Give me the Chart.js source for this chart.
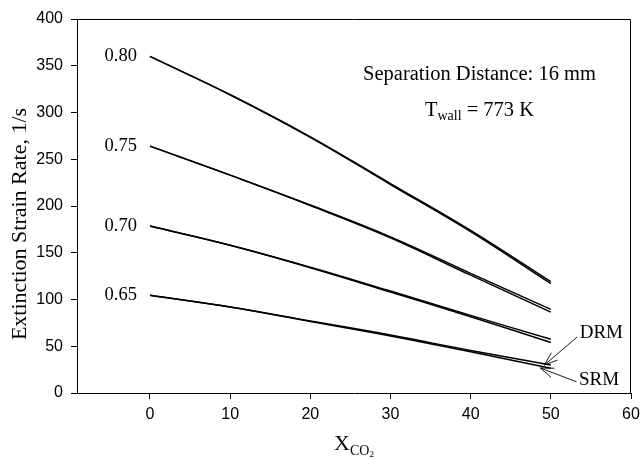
<!DOCTYPE html>
<html>
<head>
<meta charset="utf-8">
<script src="https://cdn.jsdelivr.net/npm/chart.js@4"></script>
<style>
  html, body { margin: 0; padding: 0; background: #fff; }
</style>
</head>
<body>
<canvas id="strainChart" width="640" height="459"></canvas>
<script>
// mole fraction of CO2 (%)
const xco2 = [0, 10, 20, 30, 40, 50];

// extinction strain rate, 1/s  (DRM = detailed, SRM = reduced mechanism)
const drm080 = [360, 319, 274, 224, 174, 119];
const srm080 = [360, 319, 273.5, 223, 172.5, 117];
const drm075 = [264, 233, 201, 167, 128, 89.5];
const srm075 = [264, 233, 200.5, 166, 126, 86.5];
const drm070 = [178.5, 158, 134.5, 109, 83, 57.5];
const srm070 = [178.5, 158, 134, 108, 81.5, 54];
const drm065 = [104.5, 92, 77, 62, 45.5, 30];
const srm065 = [104.5, 92, 76.5, 61, 44, 26.5];

const levelLabels = ['0.80', '0.75', '0.70', '0.65'];
const xTicks = [0, 10, 20, 30, 40, 50, 60];

const SERIF = '"Liberation Serif", "DejaVu Serif", serif';
const SANS = '"Liberation Sans", Arial, sans-serif';

function series(label, values) {
    return {
        label: label,
        data: values.map((v, i) => ({ x: xco2[i], y: v })),
        borderColor: '#000',
        borderWidth: 1.5,
        pointRadius: 0,
        fill: false,
        tension: 0.4
    };
}

const datasets = [
    series('DRM 0.80', drm080), series('SRM 0.80', srm080),
    series('DRM 0.75', drm075), series('SRM 0.75', srm075),
    series('DRM 0.70', drm070), series('SRM 0.70', srm070),
    series('DRM 0.65', drm065), series('SRM 0.65', srm065)
];

function arrow(ctx, x1, y1, x2, y2) {
    const a = Math.atan2(y2 - y1, x2 - x1);
    const len = 14, spread = 0.35;
    ctx.beginPath();
    ctx.moveTo(x1, y1);
    ctx.lineTo(x2, y2);
    ctx.moveTo(x2, y2);
    ctx.lineTo(x2 - len * Math.cos(a - spread), y2 - len * Math.sin(a - spread));
    ctx.moveTo(x2, y2);
    ctx.lineTo(x2 - len * Math.cos(a + spread), y2 - len * Math.sin(a + spread));
    ctx.stroke();
}

// frame, axis titles, level labels and the text notes
const notes = {
    id: 'notes',
    afterDraw(chart) {
        const ctx = chart.ctx;
        const xs = chart.scales.x, ys = chart.scales.y;
        const area = chart.chartArea;
        ctx.save();

        ctx.strokeStyle = '#000';
        ctx.lineWidth = 1;
        ctx.beginPath();
        ctx.moveTo(area.left, area.top + 0.5);
        ctx.lineTo(area.right - 0.5, area.top + 0.5);
        ctx.lineTo(area.right - 0.5, area.bottom);
        ctx.stroke();

        ctx.fillStyle = '#000';

        // y axis title
        ctx.save();
        ctx.translate(20, 224);
        ctx.rotate(-Math.PI / 2);
        ctx.font = '22px ' + SERIF;
        ctx.textAlign = 'center';
        ctx.textBaseline = 'middle';
        ctx.fillText('Extinction Strain Rate, 1/s', 0, 0);
        ctx.restore();

        ctx.font = '18.5px ' + SERIF;
        ctx.textAlign = 'right';
        ctx.textBaseline = 'middle';
        [drm080, drm075, drm070, drm065].forEach((s, i) => {
            ctx.fillText(levelLabels[i], xs.getPixelForValue(xco2[0]) - 13, ys.getPixelForValue(s[0]));
        });

        ctx.textAlign = 'center';
        ctx.font = '20.5px ' + SERIF;
        ctx.fillText('Separation Distance: 16 mm', xs.getPixelForValue(41.1), ys.getPixelForValue(340));

        // T_wall = 773 K
        const cx = xs.getPixelForValue(41.1), cy = ys.getPixelForValue(302.5);
        ctx.font = '20.5px ' + SERIF;
        const wT = ctx.measureText('T').width;
        const wRest = ctx.measureText(' = 773 K').width;
        ctx.font = '14px ' + SERIF;
        const wSub = ctx.measureText('wall').width;
        let x0 = cx - (wT + wSub + wRest) / 2;
        ctx.textAlign = 'left';
        ctx.font = '20.5px ' + SERIF;
        ctx.fillText('T', x0, cy);
        ctx.font = '14px ' + SERIF;
        ctx.fillText('wall', x0 + wT, cy + 6);
        ctx.font = '20.5px ' + SERIF;
        ctx.fillText(' = 773 K', x0 + wT + wSub, cy);

        // DRM / SRM
        ctx.font = '19px ' + SERIF;
        ctx.fillText('DRM', xs.getPixelForValue(53.6), ys.getPixelForValue(64));
        ctx.fillText('SRM', xs.getPixelForValue(53.5), ys.getPixelForValue(14));
        ctx.lineWidth = 0.9;
        arrow(ctx, xs.getPixelForValue(53.3), ys.getPixelForValue(60), xs.getPixelForValue(49.2), ys.getPixelForValue(30));
        arrow(ctx, xs.getPixelForValue(53.2), ys.getPixelForValue(12), xs.getPixelForValue(48.7), ys.getPixelForValue(26.7));

        // x axis title X_CO2
        const tx = (area.left + area.right) / 2, ty = 444;
        ctx.font = '22px ' + SERIF;
        const wX = ctx.measureText('X').width;
        ctx.font = '14px ' + SERIF;
        const wCO = ctx.measureText('CO').width;
        ctx.font = '9px ' + SERIF;
        const w2 = ctx.measureText('2').width;
        let sx = tx - (wX + wCO + w2) / 2;
        ctx.font = '22px ' + SERIF;
        ctx.fillText('X', sx, ty);
        ctx.font = '14px ' + SERIF;
        ctx.fillText('CO', sx + wX, ty + 7);
        ctx.font = '9px ' + SERIF;
        ctx.fillText('2', sx + wX + wCO, ty + 11);

        ctx.restore();
    }
};

new Chart(document.getElementById('strainChart'), {
    type: 'line',
    data: { datasets: datasets },
    options: {
        responsive: false,
        animation: false,
        devicePixelRatio: 1,
        layout: { padding: { left: 0, right: 9, top: 19, bottom: 0 } },
        plugins: {
            legend: { display: false },
            tooltip: { enabled: false }
        },
        scales: {
            x: {
                type: 'linear',
                min: -9.1,
                max: 60,
                afterBuildTicks: scale => { scale.ticks = xTicks.map(v => ({ value: v })); },
                afterFit: scale => {
                    scale.height = 66;
                    scale.paddingLeft = 0;
                    scale.paddingRight = 0;
                },
                grid: { drawOnChartArea: false, drawTicks: true, tickLength: 6, color: '#000' },
                border: { display: true, color: '#000', width: 1 },
                ticks: { color: '#000', font: { family: SANS, size: 16 }, padding: 6, maxRotation: 0 }
            },
            y: {
                min: 0,
                max: 400,
                afterFit: scale => {
                    scale.width = 77;
                    scale.paddingTop = 0;
                    scale.paddingBottom = 0;
                },
                grid: { drawOnChartArea: false, drawTicks: true, tickLength: 6, color: '#000' },
                border: { display: true, color: '#000', width: 1 },
                ticks: { stepSize: 50, color: '#000', font: { family: SANS, size: 16 }, padding: 8 }
            }
        }
    },
    plugins: [notes]
});
</script>
</body>
</html>
